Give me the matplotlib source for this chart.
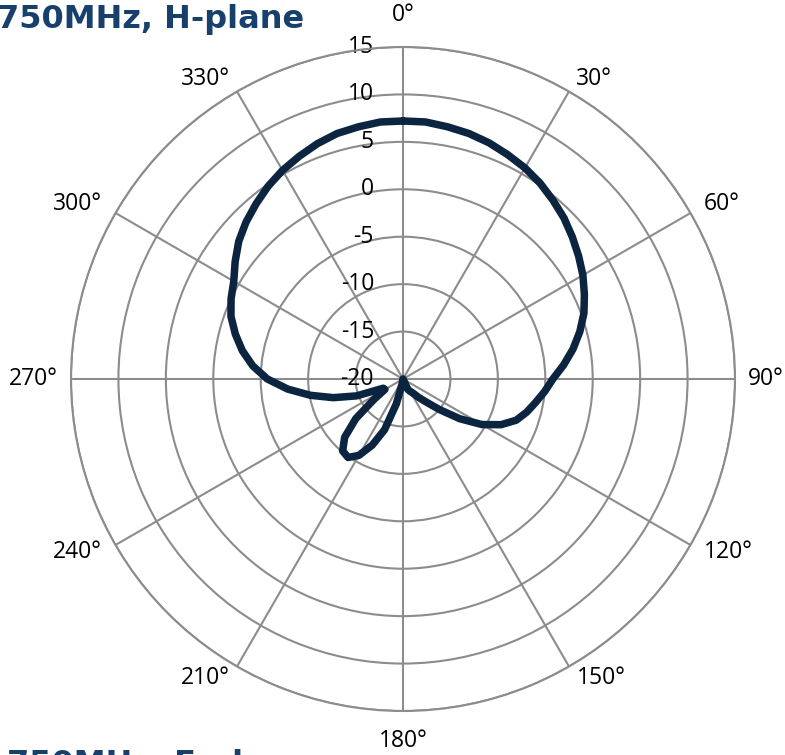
import numpy as np
import matplotlib
matplotlib.use("Agg")
import matplotlib.pyplot as plt

# H-plane pattern at 750 MHz, gain in dB every 5 degrees (clockwise from 0)
ANGLES_DEG = list(range(0, 360, 5))
GAIN_DB = [
    7.2, 7.2, 7.0, 6.8, 6.5, 6.1, 5.7, 5.2, 4.6, 4.0, 3.3, 2.6,        # 0-55
    1.9, 1.1, 0.3, -0.7, -1.8, -3.0, -4.2, -5.0, -5.8, -6.5, -7.3, -8.6,  # 60-115
    -10.4, -12.7, -15.0, -16.6, -17.5, -18.2, -18.5, -18.8, -20, -20, -20, -20,  # 120-175
    -20, -20, -19.5, -17.3, -14.3, -12.3, -10.7, -9.9, -10.1, -11.3, -13.5, -16.3,  # 180-235
    -17.8, -17.7, -14.8, -12.4, -10.1, -7.8, -5.7, -4.1, -2.8, -1.7, -0.7, 0.0,  # 240-295
    0.6, 1.6, 2.6, 3.4, 4.1, 4.8, 5.4, 5.9, 6.4, 6.8, 7.0, 7.2,          # 300-355
]
R_TICKS = [-20, -15, -10, -5, 0, 5, 10, 15]
THETA_TICKS = list(range(0, 360, 30))

TITLE = "750MHz, H-plane"
NEXT_TITLE = "750MHz, E-plane"

GRID = "#8c8c8c"
LINE = "#0b2540"
TITLE_C = "#17406d"
FS = 16.5

# where each angle label sits relative to the end of its spoke (pixels), Excel-like
LABEL_POS = {
    0: ("center", 0, 32), 30: ("left", 7, 12.5), 60: ("left", 13, 8.5),
    90: ("left", 13, 0), 120: ("left", 13, -7), 150: ("left", 8, -11),
    180: ("center", 0, -30), 210: ("right", -7, -11), 240: ("right", -14, -7),
    270: ("right", -13, 0), 300: ("right", -14, 8.5), 330: ("right", -7, 12.5),
}

fig = plt.figure(figsize=(7.85, 7.55), dpi=100)
ax = fig.add_axes([71 / 785, 44 / 755, 664 / 785, 664 / 755], projection="polar")
ax.set_theta_zero_location("N")
ax.set_theta_direction(-1)
ax.set_ylim(-20, 15)

th = np.deg2rad(ANGLES_DEG + [ANGLES_DEG[0]])
r = GAIN_DB + [GAIN_DB[0]]
ax.plot(th, r, color=LINE, lw=5.4, solid_joinstyle="round", solid_capstyle="round", zorder=3)

ax.set_rticks(R_TICKS[1:])
ax.set_yticklabels([])
ax.set_thetagrids(THETA_TICKS, labels=[])
ax.grid(True, color=GRID, lw=1.5)
ax.spines["polar"].set_color(GRID)
ax.spines["polar"].set_linewidth(1.5)

for a in THETA_TICKS:
    ha, dx, dy = LABEL_POS[a]
    ax.annotate(f"{a}°", xy=(np.deg2rad(a), R_TICKS[-1]), xytext=(dx, dy),
                textcoords="offset pixels", ha=ha, va="center", fontsize=FS,
                family="Open Sans", color="black", annotation_clip=False)

for v in R_TICKS:
    ax.annotate(str(v), xy=(0, v), xytext=(-29, 0), textcoords="offset pixels",
                ha="right", va="center", fontsize=FS, family="Open Sans",
                color="black", zorder=2)

fig.text(-3 / 785, 1 - 28 / 755, TITLE, fontsize=23, fontweight="bold",
         color=TITLE_C, ha="left", va="baseline", family="DejaVu Sans")
fig.text(7 / 785, 1 - 749 / 755, NEXT_TITLE, fontsize=23, fontweight="bold",
         color=TITLE_C, ha="left", va="top", family="DejaVu Sans")

fig.savefig("out.png", dpi=100)
